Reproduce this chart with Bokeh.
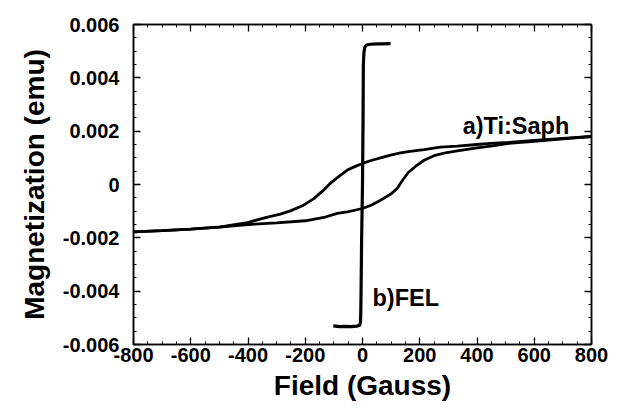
from bokeh.plotting import figure
from bokeh.models import LinearAxis, FixedTicker, Label, Range1d, CustomJSTickFormatter
from bokeh.embed import file_html
from bokeh.resources import INLINE

# ---- data ----
# Ti:Sapphire loop, upper (descending field) branch
tisaph_up_field = [800, 700, 600, 511, 448, 400, 331, 272, 215, 160, 133, 98, 63, 30, 0, -25, -53, -80, -113, -140, -170, -210, -252, -287, -332, -402, -496, -600, -700, -800]
tisaph_up_mag = [0.00180, 0.00173, 0.00165, 0.00158, 0.00154, 0.00150, 0.00144, 0.00140, 0.00131, 0.00123, 0.00119, 0.00110, 0.00100, 0.00090, 0.00079, 0.00068, 0.00054, 0.00032, 0.00004, -0.00025, -0.00053, -0.00080, -0.00099, -0.00111, -0.00122, -0.00143, -0.00159, -0.00167, -0.00173, -0.00178]
# Ti:Sapphire loop, lower (ascending field) branch
tisaph_dn_field = [-800, -700, -600, -500, -400, -300, -200, -130, -88, -53, 0, 30, 63, 100, 121, 140, 160, 190, 215, 250, 290, 331, 400, 448, 511, 600, 700, 800]
tisaph_dn_mag = [-0.00178, -0.00173, -0.00167, -0.00160, -0.00150, -0.00144, -0.00136, -0.00122, -0.00108, -0.00103, -0.00090, -0.00078, -0.00059, -0.00035, -0.00015, 0.00016, 0.00045, 0.00072, 0.00091, 0.00108, 0.00119, 0.00126, 0.00137, 0.00144, 0.00154, 0.00162, 0.00171, 0.00180]
# FEL loop
fel_field = [-102, -80, -60, -40, -20, -10, -7, -6, -5, -3, 0, 2, 3, 5, 8, 14, 28, 50, 70, 98]
fel_mag = [-0.00530, -0.00533, -0.00532, -0.00533, -0.00531, -0.00528, -0.00515, -0.00480, -0.00400, -0.00200, 0.00000, 0.00250, 0.00450, 0.00495, 0.00515, 0.00523, 0.00526, 0.00527, 0.00527, 0.00528]

x_ticks = [-800, -600, -400, -200, 0, 200, 400, 600, 800]
x_tick_labels = ["-800", "-600", "-400", "-200", "0", "200", "400", "600", "800"]
x_minor = [v for v in range(-800, 801, 50)]
y_ticks = [-0.006, -0.004, -0.002, 0.0, 0.002, 0.004, 0.006]
y_tick_labels = ["-0.006", "-0.004", "-0.002", "0", "0.002", "0.004", "0.006"]
y_minor = [i * 0.0005 for i in range(-12, 13)]

label_a = "a)Ti:Saph"
label_b = "b)FEL"

FONT = "Liberation Sans"

p = figure(width=609, height=403, output_backend="svg", toolbar_location=None,
           x_range=Range1d(-800, 800), y_range=Range1d(-0.006, 0.006),
           min_border_left=133, min_border_right=18, min_border_top=24, min_border_bottom=59,
           x_axis_location=None, y_axis_location=None)
p.xgrid.visible = False
p.ygrid.visible = False
p.outline_line_color = "black"
p.outline_line_width = 1.5
p.background_fill_color = "white"
p.border_fill_color = "white"


def style(ax, ticks, minor, labels=None, show=True):
    ax.ticker = FixedTicker(ticks=ticks, minor_ticks=minor)
    ax.major_tick_in = 7
    ax.major_tick_out = 0
    ax.minor_tick_in = 3
    ax.minor_tick_out = 0
    ax.axis_line_color = "black"
    ax.axis_line_width = 1.5
    ax.major_tick_line_width = 1.3
    ax.minor_tick_line_width = 1.0
    ax.major_label_text_font = FONT
    ax.major_label_text_font_style = "bold"
    ax.major_label_text_font_size = "20px"
    ax.major_label_text_color = "black"
    if show:
        ax.major_label_overrides = {t: l for t, l in zip(ticks, labels)}
    else:
        ax.formatter = CustomJSTickFormatter(code="return ''")
        ax.major_label_standoff = 0


xb = LinearAxis(axis_label="Field (Gauss)")
style(xb, x_ticks, x_minor, x_tick_labels)
xb.major_label_standoff = 3
xb.axis_label_standoff = 5
xb.axis_label_text_font = FONT
xb.axis_label_text_font_style = "bold"
xb.axis_label_text_font_size = "28px"
xb.axis_label_text_color = "black"
p.add_layout(xb, "below")

yl = LinearAxis(axis_label="Magnetization (emu)")
style(yl, y_ticks, y_minor, y_tick_labels)
yl.major_label_standoff = 14
yl.axis_label_standoff = 10
yl.axis_label_text_font = FONT
yl.axis_label_text_font_style = "bold"
yl.axis_label_text_font_size = "28px"
yl.axis_label_text_color = "black"
p.add_layout(yl, "left")

xt = LinearAxis()
style(xt, x_ticks, x_minor, show=False)
p.add_layout(xt, "above")

yr = LinearAxis()
style(yr, y_ticks, y_minor, show=False)
p.add_layout(yr, "right")

p.line(tisaph_up_field, tisaph_up_mag, line_color="black", line_width=2.8)
p.line(tisaph_dn_field, tisaph_dn_mag, line_color="black", line_width=2.8)
p.line(fel_field, fel_mag, line_color="black", line_width=3.2)

p.add_layout(Label(x=350, y=0.0022, text=label_a, text_font=FONT, text_font_style="bold",
                   text_font_size="23.5px", text_color="black", text_baseline="alphabetic"))
p.add_layout(Label(x=35, y=-0.00425, text=label_b, text_font=FONT, text_font_style="bold",
                   text_font_size="23.5px", text_color="black", text_baseline="alphabetic"))

open("out.html", "w").write(file_html(p, INLINE))
